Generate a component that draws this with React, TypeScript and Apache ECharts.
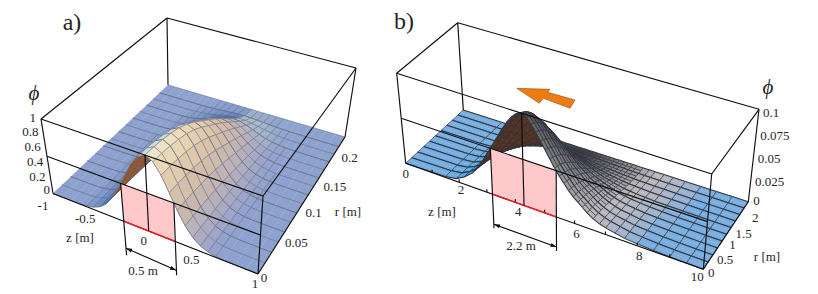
import React, { useEffect, useRef } from "react";
import * as echarts from "echarts";

// ---- values ----
const zStationsA = [-1,-0.9,-0.8,-0.7,-0.63,-0.56,-0.49,-0.42,-0.35,-0.28,-0.21,-0.14,-0.07,0,0.07,0.14,0.21,0.28,0.35,0.42,0.49,0.56,0.63,0.7,0.8,0.9,1];
const phiAtAxisA = [0,0,0.001,0.004,0.012,0.031,0.07,0.141,0.257,0.419,0.613,0.805,0.947,1,0.947,0.805,0.613,0.419,0.257,0.141,0.07,0.031,0.012,0.004,0.001,0,0];
const rStationsA = [0,0.015,0.03,0.045,0.06,0.075,0.09,0.105,0.12,0.135,0.15,0.165,0.18,0.195,0.21,0.23];
const rFalloffA = [1,0.99,0.97,0.94,0.9,0.84,0.76,0.67,0.58,0.49,0.39,0.29,0.19,0.1,0.035,0];
const phiTicksA = [0,0.2,0.4,0.6,0.8,1];
const zTicksA = [-0.5,0,0.5,1];
const rTicksA = [0,0.05,0.1,0.15,0.2];

const zStationsB = [0,1.5,1.9,2.2,2.5,2.7,2.9,3.05,3.2,3.35,3.5,3.65,3.8,3.95,4.1,4.3,4.45,4.6,4.75,4.9,5.05,5.2,5.35,5.5,5.65,5.8,5.95,6.1,6.25,6.4,6.6,6.8,7,7.3,7.6,8,8.5,9,9.5,10];
const phiAtAxisB = [0,0.001,0.003,0.008,0.0155,0.024,0.033,0.042,0.05,0.059,0.068,0.077,0.085,0.092,0.097,0.1,0.097,0.091,0.084,0.076,0.068,0.06,0.052,0.045,0.039,0.033,0.028,0.024,0.02,0.016,0.012,0.009,0.007,0.005,0.003,0.002,0.001,0.0005,0.0002,0];
const rStationsB = [0,0.1,0.2,0.3,0.4,0.5,0.6,0.7,0.8,0.9,1,1.1,1.2,1.3,1.4,1.5,1.6,1.7,1.8,1.9,2];
const rFalloffB = [1,0.98,0.95,0.91,0.86,0.8,0.74,0.67,0.6,0.52,0.44,0.37,0.3,0.23,0.17,0.12,0.08,0.05,0.03,0.01,0];
const phiTicksB = [0,0.025,0.05,0.075,0.1];
const zTicksB = [0,2,4,6,8,10];
const rTicksB = [0,0.5,1,1.5,2];
const zMinorTicksB = [1,2,3,4,5,6,7,8,9];

// ---- layout (pixels of the 818x294 page) ----
type Pt = [number, number];
const floorA: Pt[] = [[53,193.5],[258,274],[345,137],[168,85]];
const roofA: Pt[] = [[41,119],[263,196],[356,68],[167,18]];
const floorB: Pt[] = [[405.7,163.3],[703.3,269.3],[748.3,201.7],[463.3,110]];
const roofB: Pt[] = [[396.7,73.3],[711.7,174],[759,109.3],[457.7,22.7]];
const orangeArrow: Pt[] = [[516.7,88.3],[550,89.3],[547.7,92.3],[575,100],[570,108.3],[543.3,98.3],[539.3,103.3]];
const phiOffsetsA: Pt[] = [[-3,-4.5],[-5,-2],[-5,-2],[-5,-2],[-5,-2],[-5,-2]];
const zOffsetsA: Pt[] = [[-14,7],[-5,9],[-10,8],[-3,9]];
const rOffsetsA: Pt[] = [[6,3],[16,4],[13,6],[16,9],[14,6]];
const phiOffsetsB: Pt[] = [[5,-1],[4,3],[4,3],[4,3],[4,3]];
const zOffsetsB: Pt[] = [[0,10],[2,7],[3,9],[2,10],[2,10],[-6,7]];
const rOffsetsB: Pt[] = [[8,3],[10,8.5],[6,10.5],[6,16],[7,16]];

const FONT = "Liberation Serif, serif";

function squareToQuad(q: Pt[]) {
  const [[x0,y0],[x1,y1],[x2,y2],[x3,y3]] = q;
  const dx1=x1-x2, dx2=x3-x2, sx=x0-x1+x2-x3, dy1=y1-y2, dy2=y3-y2, sy=y0-y1+y2-y3;
  const den=dx1*dy2-dx2*dy1;
  const g=(sx*dy2-dx2*sy)/den, h=(dx1*sy-sx*dy1)/den;
  const a=x1-x0+g*x1, b=x3-x0+h*x3, d=y1-y0+g*y1, e=y3-y0+h*y3;
  return (u:number,v:number):Pt=>{
    const w=g*u+h*v+1;
    return [(a*u+b*v+x0)/w,(d*u+e*v+y0)/w];
  };
}

type Panel = {
  zs:number[]; phis:number[]; rs:number[]; fall:number[]; floor:Pt[]; roof:Pt[];
  zMin:number; zMax:number; rMax:number; phiMax:number;
};
const panelA: Panel = {zs:zStationsA,phis:phiAtAxisA,rs:rStationsA,fall:rFalloffA,floor:floorA,roof:roofA,zMin:-1,zMax:1,rMax:0.23,phiMax:1};
const panelB: Panel = {zs:zStationsB,phis:phiAtAxisB,rs:rStationsB,fall:rFalloffB,floor:floorB,roof:roofB,zMin:0,zMax:10,rMax:2,phiMax:0.1};

function projector(p: Panel){
  const lo=squareToQuad(p.floor), hi=squareToQuad(p.roof);
  return (z:number,r:number,phi:number):Pt=>{
    const u=(z-p.zMin)/(p.zMax-p.zMin), v=r/p.rMax, t=phi/p.phiMax;
    const a=lo(u,v), b=hi(u,v);
    return [a[0]+(b[0]-a[0])*t,a[1]+(b[1]-a[1])*t];
  };
}
const projA=projector(panelA), projB=projector(panelB);

function hex(c:string){return [1,3,5].map(i=>parseInt(c.slice(i,i+2),16));}
function mix(a:string,b:string,t:number){
  const k=Math.max(0,Math.min(1,t)),A=hex(a),B=hex(b);
  return "#"+A.map((v,i)=>Math.round(v+(B[i]-v)*k).toString(16).padStart(2,"0")).join("");
}
function ramp(stops:[number,string][],x:number){
  if(x<=stops[0][0])return stops[0][1];
  for(let i=1;i<stops.length;i++) if(x<=stops[i][0]) return mix(stops[i-1][1],stops[i][1],(x-stops[i-1][0])/(stops[i][0]-stops[i-1][0]));
  return stops[stops.length-1][1];
}
const rampA:[number,string][]=[[0.004,"#8ea2cf"],[0.05,"#a0a6c8"],[0.15,"#b4afbf"],[0.35,"#c9b8ad"],[0.6,"#dcc4a8"],[0.85,"#e9d6b4"],[1,"#f1e9cf"]];

function fillA(z:number,r:number,phi:number,flipped:boolean){
  if(flipped) return r<0.06?"#96521f":"#1c3158";
  if(z<0) return mix(mix("#8ea2cf","#3f70ba",phi/0.12),"#c9dde2",(phi-0.25)/0.3);
  return mix(ramp(rampA,phi),"#a8cfd0",(r-0.16)*14*Math.min(1,phi/0.05));
}
function fillB(z:number,r:number,phi:number,flipped:boolean){
  if(flipped) return "#5f3219";
  const flat="#79aee0";
  if(z<3.2) return mix(flat,"#1fa6dc",phi/0.012);
  if(z<4.3) return "#3d4f52";
  const t=(z-4.3)/4.4+(1-r/2)*0.16-0.1;
  return ramp([[0,"#3f4444"],[0.15,"#666666"],[0.35,"#969494"],[0.55,"#bcb8ba"],[0.75,"#a9b4c8"],[0.95,flat]],t);
}
// panel b's mesh is finer around the hump than on the flat parts
function denseB(i:number,j:number){
  const z=zStationsB[i];
  return j%2===0||(z>3.3&&z<6.6);
}
function denseA(){return true;}

function cellsOf(p:Panel){
  const out:number[][]=[];
  for(let j=p.rs.length-2;j>=0;j--) for(let i=0;i<p.zs.length-1;i++) out.push([i,j]);
  return out;
}
function surfaceSeries(p:Panel,proj:(z:number,r:number,phi:number)=>Pt,fill:typeof fillA,dense:(i:number,j:number)=>boolean,mesh:string,width:number,flatAcross:boolean,name:string){
  return {
    type:"custom",name,coordinateSystem:"cartesian2d",clip:false,silent:true,
    data:cellsOf(p),encode:{x:0,y:1},
    renderItem:(_:any,api:any)=>{
      const i=api.value(0),j=api.value(1);
      const h=(a:number,b:number)=>p.phis[a]*p.fall[b];
      const c=[[i,j],[i+1,j],[i+1,j+1],[i,j+1]].map(([a,b])=>api.coord(proj(p.zs[a],p.rs[b],h(a,b))));
      let area=0;
      for(let k=0;k<4;k++){const m=c[k],n=c[(k+1)%4];area+=m[0]*n[1]-n[0]*m[1];}
      const flipped=area>0;
      const zm=(p.zs[i]+p.zs[i+1])/2,rm=(p.rs[j]+p.rs[j+1])/2,phim=(h(i,j)+h(i+1,j)+h(i,j+1)+h(i+1,j+1))/4;
      const col=fill(zm,rm,phim,flipped);
      const seg=(m:number[],n:number[],w:number)=>({type:"line",shape:{x1:m[0],y1:m[1],x2:n[0],y2:n[1]},style:{stroke:mesh,lineWidth:w}});
      const thin=width*0.65;
      const floor=p.phiMax*0.006;
      const across=(a:number)=>flatAcross||p.phis[a]*p.fall[j]>floor;
      return {type:"group",children:[
        {type:"polygon",shape:{points:c},style:{fill:col,stroke:col,lineWidth:0.3}},
        ...(dense(i,j+1)?[seg(c[3],c[2],(j+1)%2===0?width:thin)]:[]),
        ...(dense(i,j)?[seg(c[0],c[1],j%2===0?width:thin)]:[]),
        ...(across(i)?[seg(c[0],c[3],thin)]:[]),
        ...(across(i+1)?[seg(c[1],c[2],thin)]:[]),
      ]};
    },
  };
}

const LINE="#0d0d0d", TXT="#262626";
function line(api:any,a:Pt,b:Pt,stroke=LINE,w=1.15){
  const m=api.coord(a),n=api.coord(b);
  return {type:"line",shape:{x1:m[0],y1:m[1],x2:n[0],y2:n[1]},style:{stroke,lineWidth:w}};
}
function poly(api:any,pts:Pt[],fill:string,stroke?:string,w=0){
  return {type:"polygon",shape:{points:pts.map(q=>api.coord(q))},style:{fill,stroke:stroke||"none",lineWidth:w}};
}
function label(api:any,p:Pt,text:string,size=13,style="normal",align="center"){
  const m=api.coord(p);
  return {type:"text",x:m[0],y:m[1],style:{text,font:`${style} ${size}px ${FONT}`,fill:TXT,align,verticalAlign:"middle"}};
}
function arrowHead(api:any,tip:Pt,from:Pt){
  const dx=from[0]-tip[0],dy=from[1]-tip[1],L=Math.hypot(dx,dy),ux=dx/L,uy=dy/L;
  return poly(api,[tip,[tip[0]+ux*6-uy*2,tip[1]+uy*6+ux*2],[tip[0]+ux*6+uy*2,tip[1]+uy*6-ux*2]],LINE);
}

function frame(api:any,proj:(z:number,r:number,phi:number)=>Pt,p:Panel){
  const {zMin:a,zMax:b,rMax:R,phiMax:H}=p;
  const out:any[]=[];
  const e=(x:Pt,y:Pt)=>out.push(line(api,x,y));
  e(proj(a,0,0),proj(a,0,H));e(proj(a,R,0),proj(a,R,H));e(proj(b,R,0),proj(b,R,H));e(proj(b,0,0),proj(b,0,H));
  e(proj(a,0,H),proj(b,0,H));e(proj(b,0,H),proj(b,R,H));e(proj(b,R,H),proj(a,R,H));e(proj(a,R,H),proj(a,0,H));
  e(proj(a,0,0),proj(b,0,0));e(proj(b,0,0),proj(b,R,0));
  e(proj(a,0,H/2),proj(b,0,H/2));
  return out;
}

function overlayA(_:any,api:any){
  const P=projA,k=[] as any[];
  k.push(poly(api,[P(-0.25,0,0),P(0.25,0,0),P(0.25,0,0.5),P(-0.25,0,0.5)],"#ffc9cb"));
  k.push(...frame(api,P,panelA));
  k.push(line(api,P(-0.25,0,0),P(0.25,0,0),"#ee1c25",1.4));
  k.push(line(api,P(0,0,0),P(0,0,1)));
  const d0=P(-0.25,0,0),d1=P(0.25,0,0);
  const e0:Pt=[d0[0]+3,d0[1]+34],e1:Pt=[d1[0]+2,d1[1]+34];
  k.push(line(api,P(-0.25,0,0.5),e0),line(api,P(0.25,0,0.5),e1));
  const a0:Pt=[e0[0]-0.5,e0[1]-7],a1:Pt=[e1[0]-0.5,e1[1]-5];
  k.push(line(api,a0,a1),arrowHead(api,a0,a1),arrowHead(api,a1,a0));
  k.push(label(api,[143,270],"0.5 m"));
  k.push(label(api,[72,22],"a)",24));
  k.push(label(api,[34,93],"ϕ",21,"italic"));
  phiTicksA.forEach((v,n)=>{const q=P(-1,0,v);k.push(label(api,[q[0]+phiOffsetsA[n][0],q[1]+phiOffsetsA[n][1]],String(v),13,"normal","right"));});
  k.push(label(api,[43,205],"-1"));
  zTicksA.forEach((v,n)=>{const q=P(v,0,0);k.push(label(api,[q[0]+zOffsetsA[n][0],q[1]+zOffsetsA[n][1]],String(v)));});
  rTicksA.forEach((v,n)=>{const q=P(1,v,0);k.push(label(api,[q[0]+rOffsetsA[n][0],q[1]+rOffsetsA[n][1]],String(v)));});
  k.push(label(api,[80,237.5],"z [m]"));
  k.push(label(api,[348,211],"r [m]"));
  return {type:"group",children:k};
}
function overlayB(_:any,api:any){
  const P=projB,k=[] as any[];
  k.push(poly(api,[P(3.2,0,0),P(5.4,0,0),P(5.4,0,0.05),P(3.2,0,0.05)],"#ffc9cb"));
  k.push(...frame(api,P,panelB));
  zMinorTicksB.forEach(v=>{const q=P(v,0,0);k.push(line(api,q,[q[0],q[1]-3]));});
  k.push(line(api,P(3.2,0,0),P(5.4,0,0),"#ee1c25",1.4));
  k.push(line(api,P(4.3,0,0),P(4.3,0,0.1)));
  const d0=P(3.2,0,0),d1=P(5.4,0,0);
  const e0:Pt=[d0[0]+1.5,d0[1]+34],e1:Pt=[d1[0],d1[1]+34];
  k.push(line(api,P(3.2,0,0.05),e0),line(api,P(5.4,0,0.05),e1));
  const a0:Pt=[e0[0],e0[1]-4],a1:Pt=[e1[0],e1[1]-4];
  k.push(line(api,a0,a1),arrowHead(api,a0,a1),arrowHead(api,a1,a0));
  k.push(poly(api,orangeArrow,"#ed7d12","#7a3c06",0.5));
  k.push(label(api,[521,245],"2.2 m"));
  k.push(label(api,[404,21],"b)",24));
  k.push(label(api,[768,87],"ϕ",21,"italic"));
  phiTicksB.forEach((v,n)=>{const q=P(10,2,v);k.push(label(api,[q[0]+phiOffsetsB[n][0],q[1]+phiOffsetsB[n][1]],String(v),13,"normal","left"));});
  zTicksB.forEach((v,n)=>{const q=P(v,0,0);k.push(label(api,[q[0]+zOffsetsB[n][0],q[1]+zOffsetsB[n][1]],String(v)));});
  rTicksB.forEach((v,n)=>{const q=P(10,v,0);k.push(label(api,[q[0]+rOffsetsB[n][0],q[1]+rOffsetsB[n][1]],String(v)));});
  k.push(label(api,[442,211.5],"z [m]"));
  k.push(label(api,[767,256],"r [m]"));
  return {type:"group",children:k};
}
function overlaySeries(name:string,fn:any){
  return {type:"custom",name,coordinateSystem:"cartesian2d",clip:false,silent:true,data:[[0,0]],encode:{x:0,y:1},renderItem:fn};
}

export default function App(){
  const ref=useRef<HTMLDivElement>(null);
  useEffect(()=>{
    const chart=echarts.init(ref.current!,undefined,{renderer:"svg"});
    chart.setOption({
      animation:false,
      backgroundColor:"#ffffff",
      grid:{left:0,top:0,right:0,bottom:0},
      xAxis:{type:"value",min:0,max:818,show:false},
      yAxis:{type:"value",min:0,max:294,inverse:true,show:false},
      tooltip:{show:false},
      series:[
        surfaceSeries(panelA,projA,fillA,denseA,"#6a6d82",0.8,false,"surface a"),
        overlaySeries("overlay a",overlayA),
        surfaceSeries(panelB,projB,fillB,denseB,"#2f3442",1.05,true,"surface b"),
        overlaySeries("overlay b",overlayB),
      ],
    });
    return ()=>chart.dispose();
  },[]);
  return <div ref={ref} style={{position:"absolute",left:0,top:0,width:818,height:294}}/>;
}
